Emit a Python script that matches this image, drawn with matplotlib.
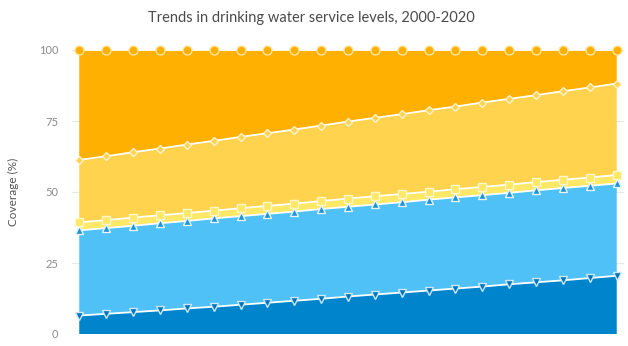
import matplotlib
matplotlib.use("Agg")
import matplotlib.pyplot as plt
import numpy as np

plt.rcParams['font.family'] = ['Lato', 'DejaVu Sans']

years = list(range(2000, 2021))

# Share of population (%) by service level, stacked bottom to top
safely_managed = [6.5, 7.1, 7.7, 8.3, 9.0, 9.6, 10.3, 11.0, 11.7, 12.4, 13.2,
                  13.9, 14.6, 15.3, 16.0, 16.7, 17.5, 18.2, 18.9, 19.7, 20.5]
basic = [30.0, 30.2, 30.4, 30.7, 30.8, 31.1, 31.2, 31.3, 31.4, 31.6, 31.6,
         31.7, 31.8, 32.0, 32.1, 32.2, 32.2, 32.4, 32.5, 32.5, 32.5]
limited = [2.8, 2.8, 2.9, 2.8, 2.8, 2.7, 2.8, 2.8, 2.8, 2.8, 2.9,
           2.9, 2.9, 2.8, 2.9, 2.9, 2.9, 2.9, 2.9, 2.9, 3.0]
unimproved = [22.0, 22.5, 23.0, 23.5, 24.1, 24.6, 25.1, 25.6, 26.1, 26.6, 27.1,
              27.6, 28.1, 28.7, 29.1, 29.7, 30.2, 30.6, 31.2, 31.7, 32.2]
surface_water = [38.7, 37.4, 36.0, 34.7, 33.3, 32.0, 30.6, 29.3, 28.0, 26.6, 25.2,
                 23.9, 22.6, 21.2, 19.9, 18.5, 17.2, 15.9, 14.5, 13.2, 11.8]

yticks = [0, 25, 50, 75, 100]

layers = [safely_managed, basic, limited, unimproved, surface_water]
fills = ['#0085CC', '#4FC1F7', '#FFE866', '#FFD34D', '#FFB000']
marker_styles = [
    dict(marker='v', mfc='#0075BC', mec='#CBE7F8', ms=5.5),
    dict(marker='^', mfc='#1E93DA', mec='#E4F4FD', ms=5.5),
    dict(marker='s', mfc='#FFE866', mec='#FFF7C8', ms=6),
    dict(marker='D', mfc='#FFD34D', mec='#FFF1CC', ms=4.5),
    dict(marker='o', mfc='#FFB000', mec='#FFE4A0', ms=6.5),
]

fig = plt.figure(figsize=(6.28, 3.46), dpi=100)
ax = fig.add_axes([72 / 628, 12 / 346, 552 / 628, 284 / 346])

x = np.array(years)
cum = np.cumsum(np.array(layers), axis=0)

ax.stackplot(x, *layers, colors=fills, linewidth=0, zorder=2)

for level, style in zip(cum, marker_styles):
    ax.plot(x, level, color='white', lw=1.3, zorder=3, clip_on=False)
    ax.plot(x, level, ls='none', mew=1.0, zorder=4, clip_on=False, **style)

ax.set_xlim(1999.73, 2020.27)
ax.set_ylim(0, 100)
ax.set_yticks(yticks)
ax.set_yticklabels([str(t) for t in yticks], color='#8a8a8a', fontsize=8)
ax.tick_params(axis='y', length=0, pad=10)
ax.set_xticks([])
ax.yaxis.grid(True, color='#e6e6e6', lw=0.8, zorder=0)
ax.set_axisbelow(True)
for s in ax.spines.values():
    s.set_visible(False)

ax.set_ylabel('Coverage (%)', color='#555555', fontsize=8.5, labelpad=14)
fig.text(0.496, 0.948, 'Trends in drinking water service levels, 2000-2020',
         ha='center', va='center', fontsize=10.5, color='#4a4a4a')

fig.savefig('out.png', dpi=100)
